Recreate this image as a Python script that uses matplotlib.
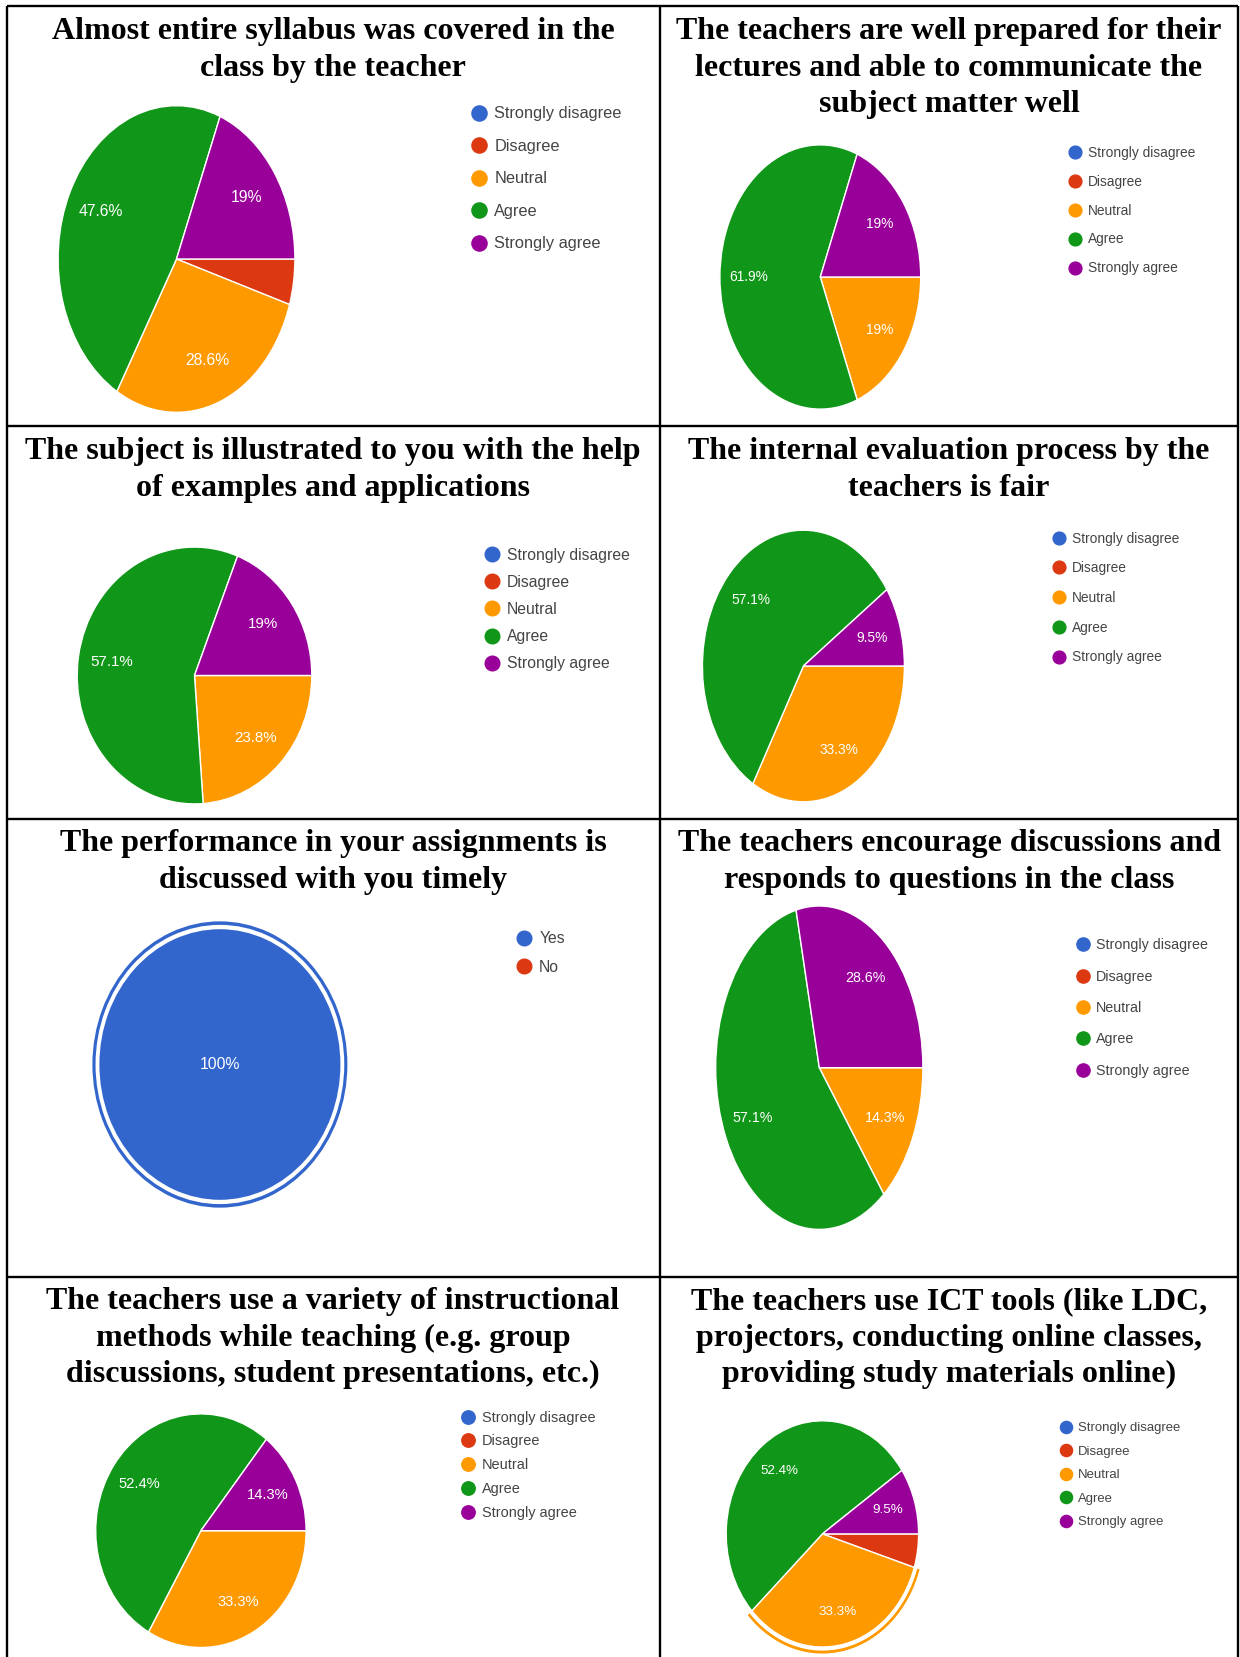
import matplotlib
matplotlib.use("Agg")
import matplotlib.pyplot as plt
from matplotlib.lines import Line2D
from matplotlib import font_manager as fm

W, H, DPI = 1240, 1657, 100

# ---------------- data ----------------
likert = ["Strongly disagree", "Disagree", "Neutral", "Agree", "Strongly agree"]
yes_no = ["Yes", "No"]
likert_colors = ["#3366CC", "#DC3912", "#FF9900", "#109618", "#990099"]
yesno_colors = ["#3366CC", "#DC3912"]

titles = [
    "Almost entire syllabus was covered in the\nclass by the teacher",
    "The teachers are well prepared for their\nlectures and able to communicate the\nsubject matter well",
    "The subject is illustrated to you with the help\nof examples and applications",
    "The internal evaluation process by the\nteachers is fair",
    "The performance in your assignments is\ndiscussed with you timely",
    "The teachers encourage discussions and\nresponds to questions in the class",
    "The teachers use a variety of instructional\nmethods while teaching (e.g. group\ndiscussions, student presentations, etc.)",
    "The teachers use ICT tools (like LDC,\nprojectors, conducting online classes,\nproviding study materials online)",
]

syllabus = [0, 4.8, 28.6, 47.6, 19]
prepared = [0, 0, 19, 61.9, 19]
illustrated = [0, 0, 23.8, 57.1, 19]
evaluation = [0, 0, 33.3, 57.1, 9.5]
assignments = [100, 0]
discussions = [0, 0, 14.3, 57.1, 28.6]
methods = [0, 0, 33.3, 52.4, 14.3]
ict = [0, 4.8, 33.3, 52.4, 9.5]

# ---------------- fonts ----------------
def has_font(name):
    try:
        fm.findfont(name, fallback_to_default=False)
        return True
    except Exception:
        return False

if has_font("Liberation Sans Narrow"):
    SANS = ["Liberation Sans Narrow", "DejaVu Sans"]
    SCALE = 1.0
else:
    SANS = ["Liberation Sans", "DejaVu Sans"]
    SCALE = 0.84
SERIF = ["Liberation Serif", "DejaVu Serif"]

fig = plt.figure(figsize=(W / DPI, H / DPI), dpi=DPI)
fig.patch.set_facecolor("white")

# overlay axes in pixel coordinates (table grid + titles)
ov = fig.add_axes([0, 0, 1, 1])
ov.set_xlim(0, W)
ov.set_ylim(H, 0)
ov.axis("off")

LW = 1.7
xl, xm, xr = 6.5, 660, 1238
rows = [5.5, 426, 819, 1277]
for y in rows:
    ov.plot([xl, xr], [y, y], color="black", lw=LW, solid_capstyle="butt")
for x in (xl, xm, xr):
    ov.plot([x, x], [5.5, H], color="black", lw=LW, solid_capstyle="butt")

# cell layout: title center x, first line y, pie center/radii, legend
cells = [
    dict(vals=syllabus, cats=likert, cols=likert_colors, tx=333, ty=32,
         cx=176.5, cy=259, rx=118.4, ry=153.3, lx=478.9, ly=114.2, lp=33.0,
         fs=14.0, pfs=13.5, hi=None, pd=0.71),
    dict(vals=prepared, cats=likert, cols=likert_colors, tx=949, ty=32,
         cx=820.3, cy=277, rx=100.4, ry=132.1, lx=1075, ly=152.2, lp=28.0,
         fs=11.8, pfs=11.8, hi=None, pd=0.71),
    dict(vals=illustrated, cats=likert, cols=likert_colors, tx=333, ty=452,
         cx=194.5, cy=675.5, rx=117.3, ry=128.4, lx=491.6, ly=555, lp=27.2,
         fs=13.5, pfs=13.0, hi=None, pd=0.71),
    dict(vals=evaluation, cats=likert, cols=likert_colors, tx=949, ty=452,
         cx=803.4, cy=666, rx=101, ry=135.8, lx=1059.2, ly=538.1, lp=28.8,
         fs=11.8, pfs=11.8, hi=None, pd=0.71),
    dict(vals=assignments, cats=yes_no, cols=yesno_colors, tx=333, ty=844,
         cx=219.9, cy=1064.5, rx=120.5, ry=135.3, lx=524.3, ly=938.7, lp=28.6,
         fs=13.5, pfs=13.5, hi=0, pd=0.0),
    dict(vals=discussions, cats=likert, cols=likert_colors, tx=949, ty=844,
         cx=819.3, cy=1067.7, rx=103.6, ry=161.7, lx=1082.5, ly=945, lp=30.9,
         fs=12.2, pfs=12.2, hi=None, pd=0.71),
    dict(vals=methods, cats=likert, cols=likert_colors, tx=333, ty=1302,
         cx=200.9, cy=1530.7, rx=105.2, ry=116.8, lx=468.3, ly=1417.6, lp=23.5,
         fs=12.4, pfs=12.6, hi=None, pd=0.71),
    dict(vals=ict, cats=likert, cols=likert_colors, tx=949, ty=1302,
         cx=822.4, cy=1533.9, rx=96.2, ry=113.1, lx=1065.6, ly=1428.2, lp=23.8,
         fs=11.2, pfs=11.5, hi=2, pd=0.71),
]

TITLE_FS = 23
TITLE_PITCH = 36.2


def make_fmt(values):
    it = iter(values)

    def fmt(_p):
        v = next(it)
        return f"{v:g}%" if v >= 5 else ""
    return fmt


M = 1.12  # axes margin around unit pie
for title, c in zip(titles, cells):
    # title lines
    for i, line in enumerate(title.split("\n")):
        ov.text(c["tx"], c["ty"] + i * TITLE_PITCH, line, ha="center", va="center",
                fontsize=TITLE_FS, fontweight="bold", family=SERIF, color="black")

    # pie
    ax = fig.add_axes([(c["cx"] - c["rx"] * M) / W, 1 - (c["cy"] + c["ry"] * M) / H,
                       2 * c["rx"] * M / W, 2 * c["ry"] * M / H])
    n_nonzero = sum(1 for v in c["vals"] if v > 0)
    edge_lw = 1.0 if n_nonzero > 1 else 0.0
    ax.pie(c["vals"], colors=c["cols"], startangle=0, counterclock=False,
           autopct=make_fmt(c["vals"]), pctdistance=c["pd"], radius=1.0,
           wedgeprops=dict(edgecolor="white", linewidth=edge_lw),
           textprops=dict(color="white", fontsize=c["pfs"] * SCALE, family=SANS))
    if c["hi"] is not None:
        ring_cols = [col if k == c["hi"] else "none" for k, col in enumerate(c["cols"])]
        ax.pie(c["vals"], colors=ring_cols, startangle=0, counterclock=False,
               radius=1.058, wedgeprops=dict(width=0.026, edgecolor="none", linewidth=0))
    ax.set_aspect("auto")
    ax.set_xlim(-M, M)
    ax.set_ylim(-M, M)
    ax.axis("off")

    # legend
    fs_pt = c["fs"] * SCALE
    fs_px = fs_pt * DPI / 72
    ms = c["fs"] * 0.78
    handles = [Line2D([], [], marker="o", ls="none", markersize=ms,
                      markerfacecolor=col, markeredgecolor=col) for col in c["cols"]]
    hl = 1.0
    x0 = c["lx"] - 0.5 * hl * fs_px
    text_x = c["lx"] + 15.5 * c["fs"] / 14.0
    htp = (text_x - x0 - hl * fs_px) / fs_px
    top = c["ly"] - 0.5 * 0.95 * fs_px
    ls = max(c["lp"] / fs_px - 0.95, 0.05)
    fig.legend(handles, c["cats"], loc="upper left",
               bbox_to_anchor=(x0 / W, 1 - top / H), bbox_transform=fig.transFigure,
               frameon=False, prop=dict(family=SANS, size=fs_pt),
               handlelength=hl, handletextpad=htp, labelspacing=ls,
               borderpad=0, borderaxespad=0, labelcolor="#444444")

fig.savefig("out.png", dpi=DPI, facecolor="white")
